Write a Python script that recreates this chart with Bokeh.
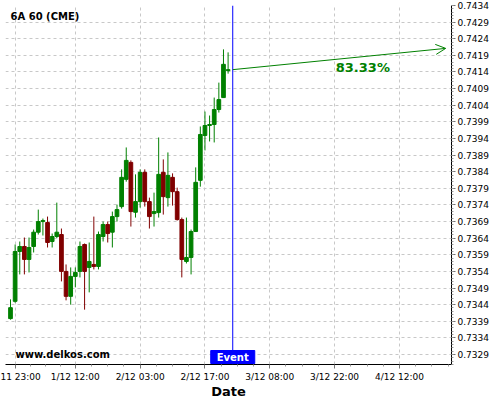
from bokeh.plotting import figure
from bokeh.models import FixedTicker, PrintfTickFormatter, Arrow, OpenHead, Label, Span
from bokeh.embed import file_html
from bokeh.resources import INLINE

# ---------------- data ----------------
opens = [0.73398, 0.73450, 0.73600, 0.73615, 0.73576, 0.73615, 0.73658, 0.73690,
         0.73687, 0.73630, 0.73645, 0.73651, 0.73540, 0.73465, 0.73525, 0.73540,
         0.73621, 0.73552, 0.73561, 0.73555, 0.73645, 0.73681, 0.73658, 0.73705,
         0.73735, 0.73817, 0.73868, 0.73718, 0.73750, 0.73838, 0.73750, 0.73714,
         0.73717, 0.73838, 0.73762, 0.73823, 0.73780, 0.73696, 0.73570, 0.73582,
         0.73660, 0.73814, 0.73949, 0.73979, 0.73982, 0.74027, 0.74063, 0.74144]
highs = [0.73456, 0.73621, 0.73630, 0.73642, 0.73642, 0.73666, 0.73726, 0.73699,
         0.73705, 0.73654, 0.73747, 0.73669, 0.73561, 0.73552, 0.73552, 0.73630,
         0.73624, 0.73627, 0.73705, 0.73660, 0.73690, 0.73690, 0.73720, 0.73741,
         0.73847, 0.73913, 0.73874, 0.73832, 0.73847, 0.73847, 0.73762, 0.73777,
         0.73943, 0.73877, 0.73898, 0.73835, 0.73792, 0.73702, 0.73702, 0.73666,
         0.73853, 0.73976, 0.74021, 0.74009, 0.74063, 0.74108, 0.74208, 0.74199]
lows = [0.73395, 0.73446, 0.73531, 0.73531, 0.73537, 0.73597, 0.73651, 0.73648,
        0.73612, 0.73612, 0.73640, 0.73510, 0.73453, 0.73440, 0.73492, 0.73522,
        0.73425, 0.73477, 0.73546, 0.73546, 0.73630, 0.73627, 0.73612, 0.73690,
        0.73729, 0.73810, 0.73675, 0.73702, 0.73732, 0.73735, 0.73669, 0.73675,
        0.73702, 0.73711, 0.73735, 0.73738, 0.73693, 0.73522, 0.73564, 0.73531,
        0.73660, 0.73795, 0.73904, 0.73931, 0.73928, 0.74018, 0.74063, 0.74135]
closes = [0.73431, 0.73600, 0.73615, 0.73576, 0.73612, 0.73658, 0.73690, 0.73693,
          0.73627, 0.73645, 0.73658, 0.73540, 0.73465, 0.73525, 0.73537, 0.73615,
          0.73540, 0.73570, 0.73555, 0.73651, 0.73681, 0.73654, 0.73705, 0.73726,
          0.73823, 0.73874, 0.73720, 0.73750, 0.73838, 0.73750, 0.73705, 0.73720,
          0.73832, 0.73765, 0.73829, 0.73780, 0.73696, 0.73576, 0.73582, 0.73660,
          0.73808, 0.73952, 0.73979, 0.73982, 0.74027, 0.74057, 0.74163, 0.74147]

x_tick_positions = [1, 14, 28, 42, 56, 70, 84]
# first label is shown cut at the left edge in the original ("30/11 23:00")
x_tick_labels = ["11 23:00", "1/12 12:00", "2/12 03:00", "2/12 17:00",
                 "3/12 08:00", "3/12 22:00", "4/12 12:00"]
y_ticks = [0.7329, 0.7334, 0.7339, 0.7344, 0.7349, 0.7354, 0.7359, 0.7364,
           0.7369, 0.7374, 0.7379, 0.7384, 0.7389, 0.7394, 0.7399, 0.7404,
           0.7409, 0.7414, 0.7419, 0.7424, 0.7429, 0.7434]

event_index = 48
event_price = 0.74147
target_index = 94
target_price = 0.74211
probability_text = "83.33%"
title_text = "6A 60 (CME)"
watermark_text = "www.delkos.com"

# ---------------- styling constants ----------------
GREEN = "#008000"
RED = "#800000"
FONT = "DejaVu Sans"
X_START, X_END = -1.08, 95.25
Y_START, Y_END = 0.73260, 0.74340
FRAME_W, FRAME_H = 446, 359

idx = list(range(len(opens)))
colors = [GREEN if c >= o else RED for o, c in zip(opens, closes)]
tops = [max(o, c) for o, c in zip(opens, closes)]
bottoms = [min(o, c) for o, c in zip(opens, closes)]

p = figure(width=500, height=400, output_backend="svg", toolbar_location=None,
           x_range=(X_START, X_END), y_range=(Y_START, Y_END),
           y_axis_location="right",
           min_border_left=5, min_border_top=5, min_border_right=49, min_border_bottom=36)
p.frame_width = FRAME_W
p.frame_height = FRAME_H
p.outline_line_color = None
p.background_fill_color = "white"

# candles
p.segment(x0=idx, y0=lows, x1=idx, y1=highs, line_color=colors, line_width=1)
p.vbar(x=idx, width=0.8, top=tops, bottom=bottoms, fill_color=colors, line_color=colors, line_width=1)

# event line
p.add_layout(Span(location=event_index, dimension="height", line_color="#0000ff", line_width=1))

# arrow + probability
p.add_layout(Arrow(end=OpenHead(size=10, line_color=GREEN, line_width=1),
                   x_start=event_index, y_start=event_price,
                   x_end=target_index, y_end=target_price,
                   line_color=GREEN, line_width=1))
p.add_layout(Label(x=76.1, y=0.74153, text=probability_text, text_align="center",
                   text_baseline="middle", text_color=GREEN, text_font=FONT,
                   text_font_style="bold", text_font_size="13px"))

# title & watermark (frame screen units, from bottom-left)
p.add_layout(Label(x=5, y=348.5, x_units="screen", y_units="screen", text=title_text,
                   text_align="left", text_baseline="middle", text_color="black",
                   text_font=FONT, text_font_style="bold", text_font_size="10px"))
p.add_layout(Label(x=10, y=10, x_units="screen", y_units="screen", text=watermark_text,
                   text_align="left", text_baseline="middle", text_color="black",
                   text_font=FONT, text_font_style="bold", text_font_size="10px"))

# Event box
p.add_layout(Label(x=event_index, y=7.5, x_units="data", y_units="screen", text="Event",
                   text_align="center", text_baseline="middle", text_color="white",
                   text_font=FONT, text_font_style="bold", text_font_size="10px",
                   background_fill_color="#0000ff", border_line_color="#0000ff",
                   padding=(6, 1)))

# axes
xa = p.xaxis[0]
xa.ticker = FixedTicker(ticks=x_tick_positions,
                        minor_ticks=[a + (b - a) * k / 4 for a, b in zip(x_tick_positions, x_tick_positions[1:] + [98]) for k in range(1, 4)])
xa.major_label_overrides = {t: l for t, l in zip(x_tick_positions, x_tick_labels)}
xa.axis_label = "Date"
xa.axis_label_text_font = FONT
xa.axis_label_text_font_style = "bold"
xa.axis_label_text_font_size = "13px"
xa.axis_label_text_color = "black"
xa.axis_label_standoff = -1
xa.major_label_text_font = FONT
xa.major_label_text_font_size = "9px"
xa.major_label_text_color = "black"
xa.major_label_standoff = 3
xa.major_tick_in = 0
xa.major_tick_out = 4
xa.minor_tick_in = 0
xa.minor_tick_out = 2
xa.axis_line_color = "black"
xa.major_tick_line_color = "#777777"
xa.minor_tick_line_color = "#999999"

ya = p.yaxis[0]
minor_y = [round(Y_START + 0.0001 * k, 4) for k in range(0, 109)]
ya.ticker = FixedTicker(ticks=y_ticks, minor_ticks=minor_y)
ya.formatter = PrintfTickFormatter(format="%.4f")
ya.major_label_text_font = FONT
ya.major_label_text_font_size = "9px"
ya.major_label_text_color = "black"
ya.major_label_standoff = 2
ya.major_tick_in = 0
ya.major_tick_out = 4
ya.minor_tick_in = 0
ya.minor_tick_out = 2
ya.axis_line_color = "black"
ya.major_tick_line_color = "#777777"
ya.minor_tick_line_color = "#999999"

# grids
p.xgrid.ticker = FixedTicker(ticks=x_tick_positions)
p.ygrid.ticker = FixedTicker(ticks=y_ticks)
for g in (p.xgrid[0], p.ygrid[0]):
    g.grid_line_color = "#c8c8c8"
    g.grid_line_dash = "3 3"
    g.grid_line_width = 1

open("out.html", "w").write(file_html(p, INLINE))
